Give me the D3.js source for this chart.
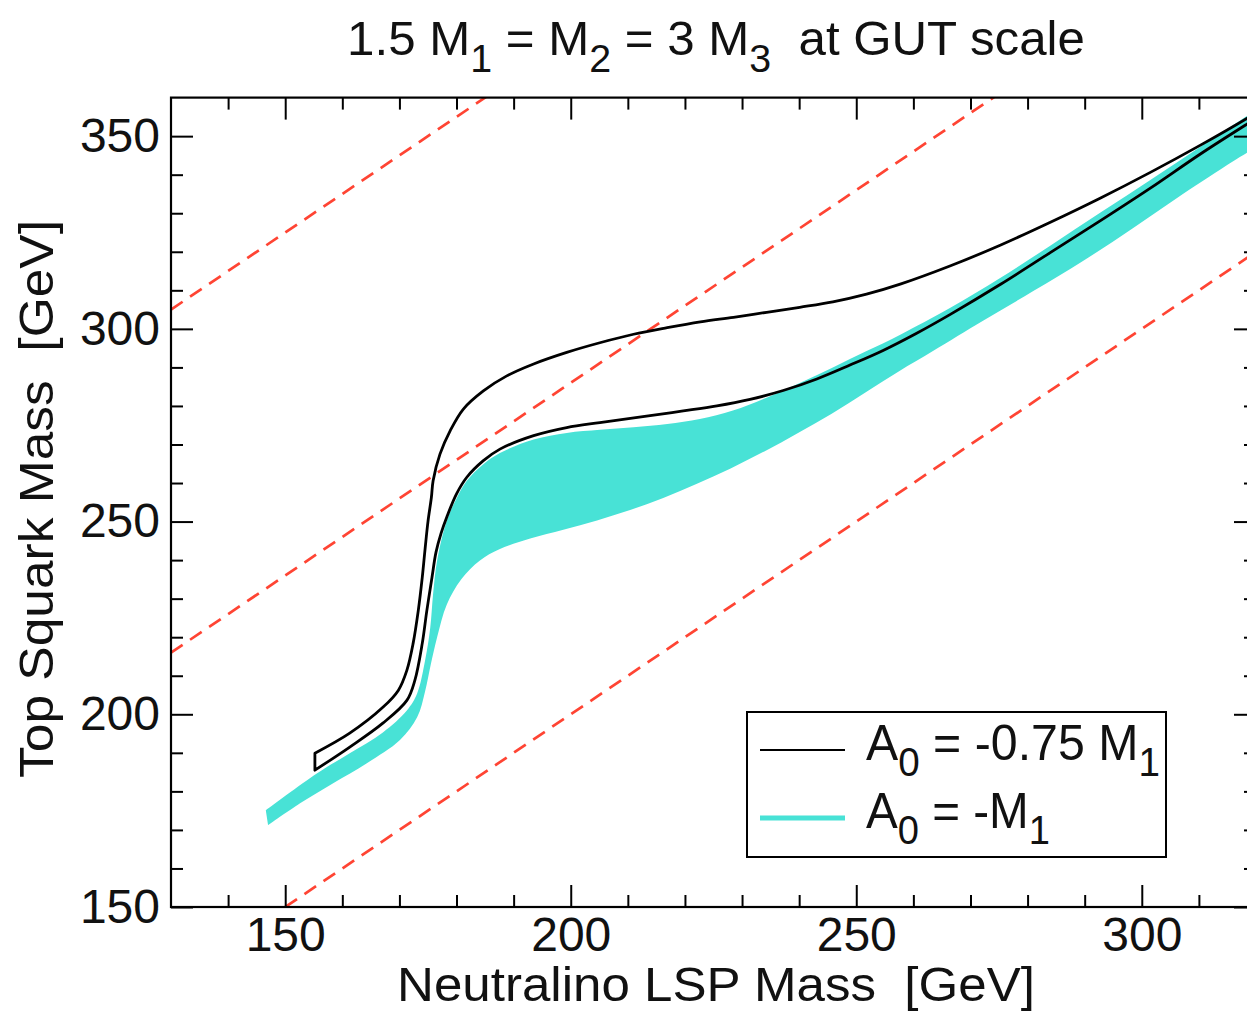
<!DOCTYPE html>
<html><head><meta charset="utf-8">
<script src="https://cdn.jsdelivr.net/npm/d3@7"></script>
<style>html,body{margin:0;padding:0;background:#fff} text{font-family:"Liberation Sans",Arial,Helvetica,sans-serif;white-space:pre}</style>
</head><body><svg id="c" width="1247" height="1012"></svg>
<script>
// ---------- data ----------
const xMajorTicks = [150, 200, 250, 300];
const xMinorTicks = [140, 160, 170, 180, 190, 210, 220, 230, 240, 260, 270, 280, 290, 310];
const yMajorTicks = [150, 200, 250, 300, 350];
const yMinorTicks = [160, 170, 180, 190, 210, 220, 230, 240, 260, 270, 280, 290, 310, 320, 330, 340];
const massGapLines = [0, 86, 175]; // m_stop = m_LSP + gap
// A0 = -M1 band (cyan)
const cyanUpper = [[146.6,175.1],[155.6,184.7],[161.3,189.9],[167.1,195.3],[171.3,201.0],[173.1,205.4],[174.5,214.0],[175.4,222.5],[175.9,231.3],[176.6,239.9],[178.3,250.3],[180.0,256.0],[181.8,260.6],[184.7,264.9],[187.6,267.8],[193.5,271.3],[199.3,273.0],[205.1,273.8],[211.0,274.5],[216.9,275.3],[222.6,276.6],[228.4,278.8],[234.4,282.2],[240.2,286.0],[245.9,290.0],[251.9,294.3],[257.7,298.5],[266.4,305.4],[275.2,313.2],[283.9,321.5],[292.7,330.1],[301.5,338.6],[310.2,347.2],[318.4,355.2],[321,357.8]];
const cyanLower = [[147.0,171.2],[152.6,176.9],[158.4,182.1],[164.3,187.3],[170.1,193.3],[173.1,199.2],[174.5,206.0],[175.5,213.0],[176.6,220.0],[178.3,228.5],[180.8,235.0],[184.1,239.9],[187.5,242.8],[192.9,245.6],[198.7,247.9],[204.6,250.3],[210.4,253.0],[216.2,256.1],[222.1,259.8],[228.0,263.8],[233.9,268.2],[239.8,273.0],[245.7,278.0],[251.6,283.5],[257.5,289.0],[263.5,294.3],[272.2,302.1],[281.0,309.8],[289.7,317.6],[298.5,326.2],[307.2,335.0],[316.0,343.5],[321,348.0]];
// A0 = -0.75 M1 region (black outline)
const blackUpper = [[155.2,189.9],[161.3,195.1],[167.1,201.8],[169.8,206.2],[171.3,211.4],[172.4,218.4],[173.3,226.9],[174.0,235.5],[174.5,243.0],[175.0,250.0],[175.6,256.3],[175.9,260.6],[177.1,267.5],[178.9,273.6],[181.2,279.2],[184.7,283.9],[188.8,287.8],[193.5,290.9],[199.3,293.9],[205.1,296.4],[211.0,298.6],[216.9,300.3],[222.7,301.8],[228.5,303.0],[234.3,304.3],[240.1,305.6],[245.9,307.0],[251.8,309.0],[257.7,311.6],[266.4,316.3],[275.2,321.7],[283.9,327.6],[292.7,333.9],[301.5,340.6],[310.2,347.6],[318.4,354.6],[321,357.0]];
const blackLower = [[155.2,185.5],[161.3,191.5],[167.1,197.7],[171.3,203.6],[172.7,208.8],[174.0,218.4],[174.8,226.9],[175.7,235.5],[176.4,242.0],[177.3,247.0],[178.3,251.2],[180.0,257.2],[181.8,261.5],[184.7,265.8],[187.6,268.8],[193.5,272.3],[199.3,274.4],[205.1,275.7],[213.9,277.5],[219.7,278.7],[225.6,280.0],[231.4,281.7],[237.2,284.0],[243.1,287.0],[248.9,290.6],[254.7,294.4],[260.5,298.8],[266.4,303.7],[275.2,311.5],[283.9,319.7],[292.7,328.0],[301.5,336.5],[310.2,345.3],[318.4,353.1],[321,355.5]];

const CYAN = "#48e2d6", RED = "#ff4433";
// ---------- layout ----------
const L = 171, R = 1256, T = 97.6, B = 907;
const svg = d3.select("#c");
const x = d3.scaleLinear().domain([130, 320]).range([L, R]);
const y = d3.scaleLinear().domain([150, 360]).range([B, T]);

svg.append("clipPath").attr("id","clip").append("rect")
  .attr("x",L).attr("y",T).attr("width",R-L).attr("height",B-T);
const plot = svg.append("g").attr("clip-path","url(#clip)");

const line = d3.line().x(d=>x(d[0])).y(d=>y(d[1])).curve(d3.curveCatmullRom.alpha(0.5));
function closedPath(up, lo){
  const a = line(up), b = line(lo.slice().reverse());
  return a + "L" + b.slice(1) + "Z";
}

// red dashed mass-gap lines
plot.selectAll("line.gap").data(massGapLines).join("line").attr("class","gap")
  .attr("x1", x(130)).attr("x2", x(320))
  .attr("y1", d=>y(130+d)).attr("y2", d=>y(320+d))
  .attr("stroke", RED).attr("stroke-width", 2.7).attr("stroke-dasharray","14,9");

// cyan band
plot.append("path").attr("d", closedPath(cyanUpper, cyanLower))
  .attr("fill", CYAN).attr("stroke","none");

// black outlined region
plot.append("path").attr("d", closedPath(blackUpper, blackLower))
  .attr("fill","none").attr("stroke","#000").attr("stroke-width",2.8).attr("stroke-linejoin","round");

// ---------- axes ----------
const fmt = d3.format("d");
function ax(gen, pos, ticks, size, labels){
  const a = gen.tickValues(ticks).tickSize(size).tickPadding(labels?10:0)
    .tickFormat(labels ? fmt : () => "");
  const g = svg.append("g").attr("transform", pos).call(a);
  g.select(".domain").remove();
  g.selectAll(".tick line").attr("stroke","#000").attr("stroke-width",2);
  g.selectAll("text").attr("font-size",48).attr("fill","#111")
    .style("font-family",'"Liberation Sans",Arial,sans-serif');
  return g;
}
ax(d3.axisBottom(x), `translate(0,${B})`, xMajorTicks, -22, true);
ax(d3.axisBottom(x), `translate(0,${B})`, xMinorTicks, -12, false);
ax(d3.axisTop(x), `translate(0,${T})`, xMajorTicks, -22, false);
ax(d3.axisTop(x), `translate(0,${T})`, xMinorTicks, -12, false);
const gl = ax(d3.axisLeft(y), `translate(${L},0)`, yMajorTicks, -22, true);
gl.selectAll("text").attr("x",-11);
ax(d3.axisLeft(y), `translate(${L},0)`, yMinorTicks, -12, false);
ax(d3.axisRight(y), `translate(${R},0)`, yMajorTicks, -22, false);
ax(d3.axisRight(y), `translate(${R},0)`, yMinorTicks, -12, false);

svg.append("rect").attr("x",L).attr("y",T).attr("width",R-L).attr("height",B-T)
  .attr("fill","none").attr("stroke","#000").attr("stroke-width",2.2);

// ---------- texts ----------
// parts: plain strings, or {sub:"x"} for subscripts
function richText(parts, fs, shift){
  const t = svg.append("text").attr("font-size", fs).attr("fill","#111");
  let low = false;
  parts.forEach(p=>{
    if (typeof p === "string") {
      const ts = t.append("tspan").text(p);
      if (low) { ts.attr("dy", -shift); low = false; }
    } else {
      t.append("tspan").attr("font-size", fs*0.8).attr("dy", shift).text(p.sub);
      low = true;
    }
  });
  return t;
}
function fit(t, w, tf){
  const bb = t.node().getBBox();
  t.attr("transform", tf(w/bb.width));
}

const title = richText(["1.5 M", {sub:"1"}, " = M", {sub:"2"}, " = 3 M", {sub:"3"}, "  at GUT scale"], 48, 17)
  .attr("text-anchor","middle");
fit(title, 738, s=>`translate(716,55) scale(${s},1)`);

const xt = richText(["Neutralino LSP Mass  [GeV]"], 48, 0).attr("text-anchor","middle");
fit(xt, 638, s=>`translate(716,1001) scale(${s},1)`);

const yt = richText(["Top Squark Mass  [GeV]"], 48, 0).attr("text-anchor","middle");
fit(yt, 558, s=>`translate(53,499) rotate(-90) scale(${s},1)`);

// legend
svg.append("rect").attr("x",747).attr("y",712).attr("width",419).attr("height",145)
  .attr("fill","#fff").attr("stroke","#000").attr("stroke-width",2);
svg.append("line").attr("x1",760).attr("x2",845).attr("y1",750).attr("y2",750)
  .attr("stroke","#000").attr("stroke-width",2);
svg.append("line").attr("x1",760).attr("x2",845).attr("y1",818).attr("y2",818)
  .attr("stroke",CYAN).attr("stroke-width",5);
const l1 = richText(["A", {sub:"0"}, " = -0.75 M", {sub:"1"}], 50, 16);
fit(l1, 294, s=>`translate(866,760) scale(${s},1)`);
const l2 = richText(["A", {sub:"0"}, " = -M", {sub:"1"}], 50, 16);
fit(l2, 184, s=>`translate(866,828) scale(${s},1)`);
</script></body></html>
